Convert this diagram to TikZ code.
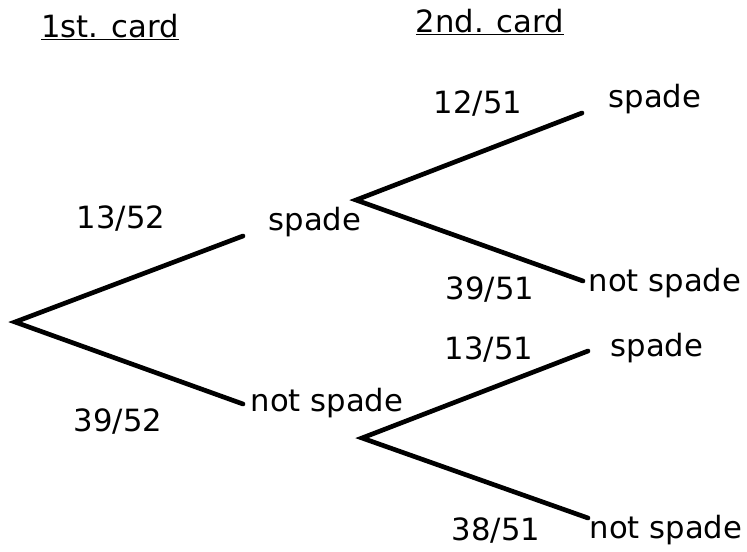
\documentclass[tikz,border=0pt]{standalone}
\usepackage{fontspec}
\setmainfont{DejaVu Sans}

\tikzset{every picture/.style={line width=0.75pt}}
\tikzset{branch/.style={line width=3.5pt, line cap=round, line join=miter},
         lbl/.style={font=\fontsize{23}{27}\selectfont, inner sep=0pt}}

\begin{document}
\begin{tikzpicture}[x=0.75pt,y=0.75pt,yscale=-1,xscale=1]
    \useasboundingbox (0,0) rectangle (747,551);

    %Branch points
    \coordinate (root) at (15,322);
    \coordinate (s1end) at (243,236);
    \coordinate (n1end) at (243,404);
    \coordinate (s1) at (356,200);
    \coordinate (n1) at (362,438);
    \coordinate (ssend) at (582,113);
    \coordinate (snend) at (583,281);
    \coordinate (nsend) at (588,351);
    \coordinate (nnend) at (588,518);

    %Straight Lines
    \draw [branch] (s1end) -- (root) -- (n1end) ;
    %Straight Lines
    \draw [branch] (ssend) -- (s1) -- (snend) ;
    %Straight Lines
    \draw [branch] (nsend) -- (n1) -- (nnend) ;

    % Text Node
    \node [lbl] (head1) at (110,27) {\underline{1st. card}};
    % Text Node
    \node [lbl] (head2) at (490,22) {\underline{2nd. card}};
    % Text Node
    \node [lbl] (p1352) at (121,219) {13/52};
    % Text Node
    \node [lbl] (p3952) at (118,422) {39/52};
    % Text Node
    \node [lbl] (spade1) at (315,222) {spade};
    % Text Node
    \node [lbl] (notspade1) at (327,403) {not spade};
    % Text Node
    \node [lbl] (p1251) at (478,104) {12/51};
    % Text Node
    \node [lbl] (p3951) at (490,290) {39/51};
    % Text Node
    \node [lbl] (p1351) at (489,350) {13/51};
    % Text Node
    \node [lbl] (p3851) at (496,531) {38/51};
    % Text Node
    \node [lbl] (spade2) at (655,99) {spade};
    % Text Node
    \node [lbl] (notspade2) at (665,283) {not spade};
    % Text Node
    \node [lbl] (spade3) at (657,348) {spade};
    % Text Node
    \node [lbl] (notspade3) at (666,530) {not spade};
\end{tikzpicture}
\end{document}
